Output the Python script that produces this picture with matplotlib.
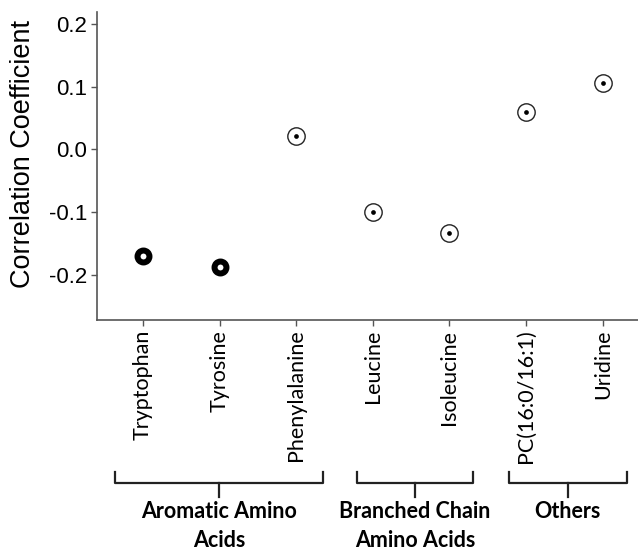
import numpy as np
import matplotlib
matplotlib.use('Agg')
import matplotlib.pyplot as plt
import matplotlib.transforms as mtransforms

# data
metabolites = ['Tryptophan', 'Tyrosine', 'Phenylalanine', 'Leucine',
               'Isoleucine', 'PC(16:0/16:1)', 'Uridine']
corr = [-0.170, -0.187, 0.022, -0.100, -0.133, 0.059, 0.106]
significant = [True, True, False, False, False, False, False]
yticks = [-0.2, -0.1, 0.0, 0.1, 0.2]
group_names = ['Aromatic Amino\nAcids', 'Branched Chain\nAmino Acids', 'Others']
group_members = [[0, 1, 2], [3, 4], [5, 6]]

# bracket padding (left, right) around the first/last member, in category units
bracket_pad = [(0.365, 0.35), (0.21, 0.31), (0.22, 0.31)]

W, H = 638, 550
fig = plt.figure(figsize=(W / 100, H / 100), dpi=100)
ax = fig.add_axes([97 / W, 1 - 320 / H, (W - 97) / W, (320 - 12) / H])

x = np.arange(1, len(metabolites) + 1)
for xi, yi, sig in zip(x, corr, significant):
    if sig:
        ax.plot(xi, yi, 'o', ms=8.6, mfc='white', mec='black', mew=4.3, zorder=3)
    else:
        ax.plot(xi, yi, 'o', ms=12.5, mfc='none', mec='#222222', mew=1.0, zorder=3)
        ax.plot(xi, yi, 'o', ms=3.4, mfc='black', mec='black', mew=0, zorder=4)

ax.set_xlim(0.40, 7.46)
ax.set_ylim(-0.272, 0.219)
ax.set_yticks(yticks)
ax.set_yticklabels(['-0.2', '-0.1', '0.0', '0.1', '0.2'],
                   fontsize=16, family='Liberation Sans')
ax.set_xticks(x)
ax.set_xticklabels(metabolites, rotation=90, fontsize=15.5, family='Lato')
ax.set_ylabel('Correlation Coefficient', fontsize=19.5, family='Liberation Sans')
ax.yaxis.set_label_coords(-0.112, 0.54)

for side in ['top', 'right']:
    ax.spines[side].set_visible(False)
for side in ['left', 'bottom']:
    ax.spines[side].set_color('#555555')
    ax.spines[side].set_linewidth(1.2)
ax.tick_params(direction='out', length=4, width=1, color='#555555', pad=3)

# group brackets below the tick labels
trans = mtransforms.blended_transform_factory(ax.transData, fig.transFigure)
y_top = 1 - 472 / H
y_mid = 1 - 483 / H
y_stem = 1 - 497 / H
for name, members, (pl, pr) in zip(group_names, group_members, bracket_pad):
    x0 = x[members[0]] - pl
    x1 = x[members[-1]] + pr
    xc = (x0 + x1) / 2
    ax.plot([x0, x0, x1, x1], [y_top, y_mid, y_mid, y_top], color='#222222',
            lw=1.6, transform=trans, clip_on=False, solid_joinstyle='round')
    ax.plot([xc, xc], [y_mid, y_stem], color='#222222', lw=1.6,
            transform=trans, clip_on=False)
    ax.text(xc, 1 - 501 / H, name, transform=trans, ha='center', va='top',
            fontsize=15.5, fontweight='bold', family='Lato', linespacing=1.45)

fig.savefig('out.png', dpi=100)
